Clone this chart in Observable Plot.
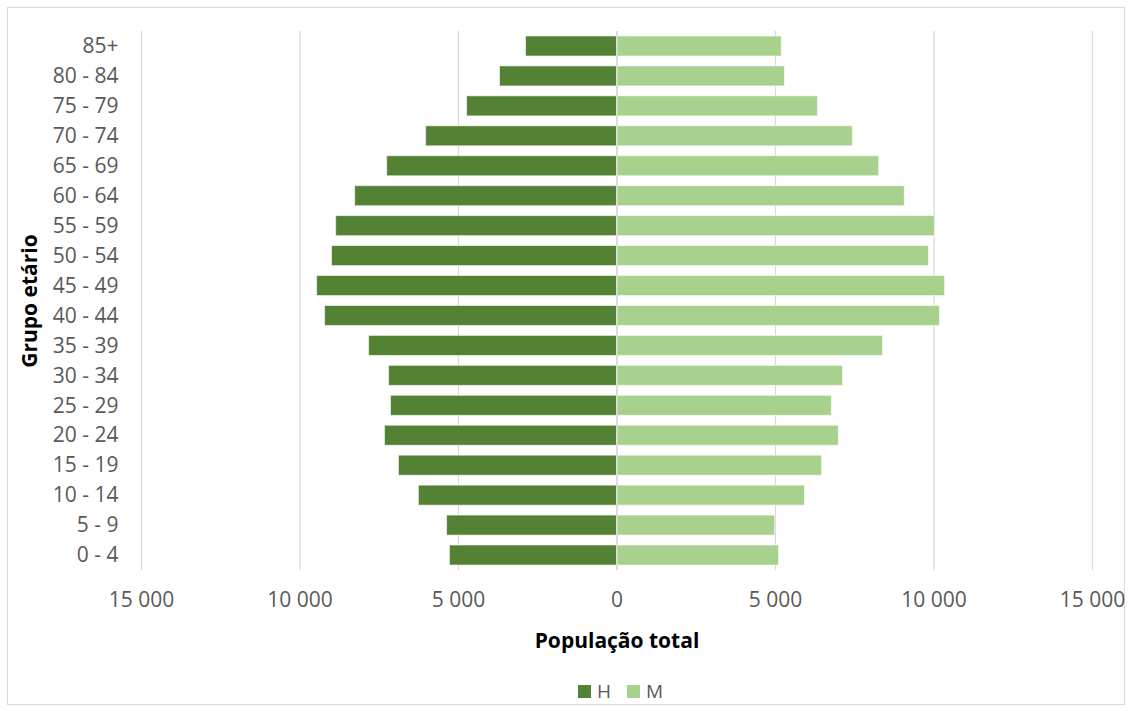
<!DOCTYPE html>
<html>
<head>
<meta charset="utf-8">
<script src="https://cdn.jsdelivr.net/npm/d3@7"></script>
<script src="https://cdn.jsdelivr.net/npm/@observablehq/plot@0.6"></script>
<style>
  body { margin: 0; background: #fff; font-family: "Open Sans", sans-serif; }
  #wrap { position: relative; width: 1131px; height: 711px; }
  #border { position: absolute; left: 7px; top: 7px; width: 1118px; height: 698px; border: 1px solid #d9d9d9; box-sizing: border-box; }
  #chart { position: absolute; left: 0; top: 0; }
  #legend { position: absolute; left: 578px; top: 678px; height: 26px; display: flex; align-items: center; font-size: 19px; color: #595959; white-space: nowrap; }
  #legend .sw { display: inline-block; width: 13px; height: 13px; margin-right: 6px; }
  #legend .it { display: flex; align-items: center; margin-right: 16px; }
</style>
</head>
<body>
<div id="wrap">
  <div id="border"></div>
  <div id="chart"></div>
  <div id="legend"></div>
</div>
<script>
const groups = ["85+", "80 - 84", "75 - 79", "70 - 74", "65 - 69", "60 - 64", "55 - 59", "50 - 54", "45 - 49", "40 - 44", "35 - 39", "30 - 34", "25 - 29", "20 - 24", "15 - 19", "10 - 14", "5 - 9", "0 - 4"];
const homens = [2870, 3690, 4730, 6020, 7250, 8260, 8860, 8990, 9460, 9210, 7820, 7190, 7130, 7320, 6880, 6250, 5360, 5270];
const mulheres = [5200, 5300, 6340, 7440, 8270, 9080, 10030, 9840, 10350, 10190, 8390, 7130, 6780, 7000, 6470, 5930, 4990, 5110];
const xTicks = [-15000, -10000, -5000, 0, 5000, 10000, 15000];
const series = ["H", "M"];
const colors = ["#548235", "#A9D18E"];

const data = [];
groups.forEach((g, i) => {
  data.push({group: g, sex: "H", value: -homens[i]});
  data.push({group: g, sex: "M", value: mulheres[i]});
});

const loc = d3.formatLocale({decimal: ",", thousands: " ", grouping: [3], currency: ["", ""]});
const fmt = loc.format(",d");

const plot = Plot.plot({
  width: 1131,
  height: 670,
  marginLeft: 141,
  marginRight: 39,
  marginTop: 31,
  marginBottom: 100,
  style: {fontFamily: "Open Sans, sans-serif", background: "transparent"},
  x: {domain: [-15000, 15000]},
  y: {domain: groups, paddingInner: 0.33, paddingOuter: 0.165, align: 0.5, round: false},
  color: {domain: series, range: colors},
  marks: [
    Plot.gridX(xTicks, {stroke: "#d9d9d9", strokeOpacity: 1, strokeWidth: 1.2}),
    Plot.barX(data, {y: "group", x: "value", fill: "sex", stroke: "#ffffff", strokeOpacity: 0.6, strokeWidth: 1}),
    Plot.ruleX([0], {stroke: "#d9d9d9", strokeWidth: 1.5}),
    Plot.axisX(xTicks, {tickSize: 0, tickPadding: 22, tickFormat: d => fmt(Math.abs(d)), fontSize: 21, fill: "#595959", label: null}),
    Plot.axisY({tickSize: 0, tickPadding: 23, fontSize: 21, fill: "#595959", label: null}),
    Plot.text(["População total"], {frameAnchor: "bottom", lineAnchor: "middle", dy: 71, fontSize: 21, fontWeight: "bold", fill: "#000"}),
    Plot.text(["Grupo etário"], {frameAnchor: "left", textAnchor: "middle", lineAnchor: "middle", dx: -111, rotate: -90, fontSize: 21, fontWeight: "bold", fill: "#000"})
  ]
});
document.getElementById("chart").appendChild(plot);

const legend = document.getElementById("legend");
series.forEach((s, i) => {
  const it = document.createElement("span");
  it.className = "it";
  it.innerHTML = `<span class="sw" style="background:${colors[i]}"></span>${s}`;
  legend.appendChild(it);
});
</script>
</body>
</html>
